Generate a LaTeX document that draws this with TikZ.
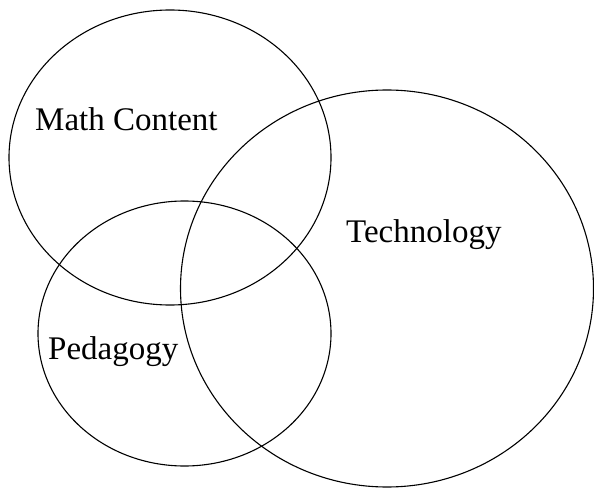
\documentclass[tikz,border=0pt]{standalone}
\usepackage{fontspec}
\setmainfont{Liberation Serif}
\usetikzlibrary{shapes.geometric}

\begin{document}
\begin{tikzpicture}[x=1pt, y=-1pt,
    every node/.style={inner sep=0pt},
    set/.style={draw, ellipse, line width=1.1pt},
    setlabel/.style={anchor=base west, font=\fontsize{33}{40}\selectfont}]
  \useasboundingbox (0,0) rectangle (594,489);
  \node[set, minimum width=322pt, minimum height=295pt] (math) at (170,157.5) {};
  \node[set, minimum width=293pt, minimum height=265pt] (peda) at (184.5,333.5) {};
  \node[set, minimum width=413pt, minimum height=397pt] (tech) at (387,288.5) {};
  \node[setlabel] (mathlabel) at (35,131) {Math Content};
  \node[setlabel] (techlabel) at (346,242) {Technology};
  \node[setlabel] (pedalabel) at (48,359) {Pedagogy};
\end{tikzpicture}
\end{document}
